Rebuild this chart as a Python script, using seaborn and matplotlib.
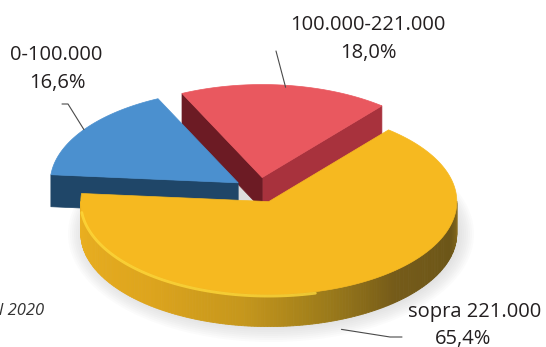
import numpy as np
import matplotlib
matplotlib.use("Agg")
import matplotlib.pyplot as plt
import seaborn as sns
from matplotlib.patches import Polygon, Ellipse
from matplotlib.colors import to_rgb

# Income brackets and their shares of the total
categories = ["sopra 221.000", "100.000-221.000", "0-100.000"]
shares = [65.4, 18.0, 16.6]
share_labels = ["65,4%", "18,0%", "16,6%"]

# Colours: top face, and the darker tones of the visible side walls
top_colors = sns.color_palette(["#f6b920", "#e9585f", "#4b90cf"])
start_wall_colors = [None, "#a8323d", None]
end_wall_colors = [None, "#6c1b24", "#1f4668"]
rim_stops = [(180, "#ebb020"), (230, "#dea51d"), (262, "#c6971c"),
             (288, "#9c7b1a"), (312, "#755b19"), (345, "#6c5618"),
             (360, "#85691c")]

sns.set_theme(style="white")
plt.rcParams["font.family"] = ["Open Sans", "DejaVu Sans"]

fig = plt.figure(figsize=(5.46, 3.47), dpi=100)
ax = fig.add_axes([0, 0, 1, 1])
ax.set_xlim(0, 546)
ax.set_ylim(347, 0)
ax.axis("off")

# Projected ellipse of the pie (pixel space, y pointing down)
CX, CY = 259.0, 190.0
RX, RY = 188.0, 93.0
DEPTH = 32.0
EXPLODE = 0.135
START = 175.0

fractions = np.asarray(shares) / np.sum(shares)
bounds = START + 360.0 * np.concatenate([[0.0], np.cumsum(fractions)])


def point(ox, oy, ang, scale=1.0):
    a = np.deg2rad(ang)
    return ox + scale * RX * np.cos(a), oy - scale * RY * np.sin(a)


def rim_color(phi):
    phi = phi % 360
    if phi < 90:
        phi += 360
    angs = [s[0] for s in rim_stops]
    cols = np.array([to_rgb(s[1]) for s in rim_stops])
    return tuple(np.interp(phi, angs, cols[:, k]) for k in range(3))


slices = []
for i in range(len(shares)):
    a0, a1 = bounds[i], bounds[i + 1]
    mid = 0.5 * (a0 + a1)
    ox, oy = point(CX, CY, mid, EXPLODE)
    slices.append((i, a0, a1, mid, ox, oy))

# Soft shadow under the pie
for k in range(10):
    ax.add_patch(Ellipse((CX + 12, CY + DEPTH + 12), 2 * RX + 30 - 4 * k,
                         2 * RY + 30 - 4 * k, facecolor="#9a9a9a",
                         edgecolor="none", alpha=0.035, zorder=0))

# Back slices first, front slice last
for order, (i, a0, a1, mid, ox, oy) in enumerate(sorted(slices, key=lambda s: s[5])):
    z = 1 + 3 * order
    apex = np.array([ox, oy])
    down = np.array([0.0, DEPTH])

    # outer curved wall on the front half
    ts = np.linspace(a0, a1, 240)
    for t0, t1 in zip(ts[:-1], ts[1:]):
        tm = 0.5 * (t0 + t1)
        if np.sin(np.deg2rad(tm)) >= 0:
            continue
        p0 = np.array(point(ox, oy, t0))
        p1 = np.array(point(ox, oy, t1))
        c = rim_color(tm)
        ax.add_patch(Polygon([p0, p1, p1 + down, p0 + down], closed=True,
                             facecolor=c, edgecolor=c, lw=0.6, zorder=z))

    # radial walls facing the viewer
    if np.sin(np.deg2rad(a0 - 90)) < 0 and start_wall_colors[i]:
        q = np.array(point(ox, oy, a0))
        ax.add_patch(Polygon([apex, q, q + down, apex + down], closed=True,
                             facecolor=start_wall_colors[i],
                             edgecolor=start_wall_colors[i], lw=0.5, zorder=z + 1))
    if np.sin(np.deg2rad(a1 + 90)) < 0 and end_wall_colors[i]:
        q = np.array(point(ox, oy, a1))
        ax.add_patch(Polygon([apex, q, q + down, apex + down], closed=True,
                             facecolor=end_wall_colors[i],
                             edgecolor=end_wall_colors[i], lw=0.5, zorder=z + 1))

    # top face
    arc = np.array([point(ox, oy, t) for t in ts])
    ax.add_patch(Polygon(np.vstack([apex, arc]), closed=True,
                         facecolor=top_colors[i], edgecolor=top_colors[i],
                         lw=0.5, zorder=z + 2))

    # bright rim along the front edge of the top face
    front = [t for t in ts if 185 < (t % 360) < 285]
    if front:
        rim = np.array([point(ox, oy, t) for t in front])
        ax.plot(rim[:, 0], rim[:, 1] + 1.5, color="#ffd93a", lw=2.0,
                alpha=0.8, solid_capstyle="round", zorder=z + 2)

# Labels with leader lines ending on each slice
geo = {s[0]: s for s in slices}
text_kw = dict(fontsize=14.5, color="#231f20", ha="center", va="center", zorder=20)
line_kw = dict(color="#4a4a4a", lw=0.8, zorder=20)

# 0-100.000
_, a0, a1, mid, ox, oy = geo[2]
ex, ey = point(ox, oy, mid)
ax.plot([62, 68, ex], [104, 104, ey], **line_kw)
ax.text(56, 55, categories[2], **text_kw)
ax.text(57, 83, share_labels[2], **text_kw)

# 100.000-221.000
_, a0, a1, mid, ox, oy = geo[1]
ex, ey = point(ox, oy, mid)
ax.plot([276, ex], [51, ey + 2], **line_kw)
ax.text(368, 25, categories[1], **text_kw)
ax.text(368, 53, share_labels[1], **text_kw)

# sopra 221.000
_, a0, a1, mid, ox, oy = geo[0]
ex, ey = point(ox, oy, mid)
ax.plot([ex, 390, 402], [ey + DEPTH + 10, 337, 337], **line_kw)
ax.text(475, 312, categories[0], **text_kw)
ax.text(463, 339, share_labels[0], **text_kw)

# footnote running in from the left margin
ax.text(44, 311, "Dati al 2020", fontsize=12, fontstyle="italic",
        color="#333333", ha="right", va="center", zorder=20)

fig.savefig("out.png", dpi=100)
